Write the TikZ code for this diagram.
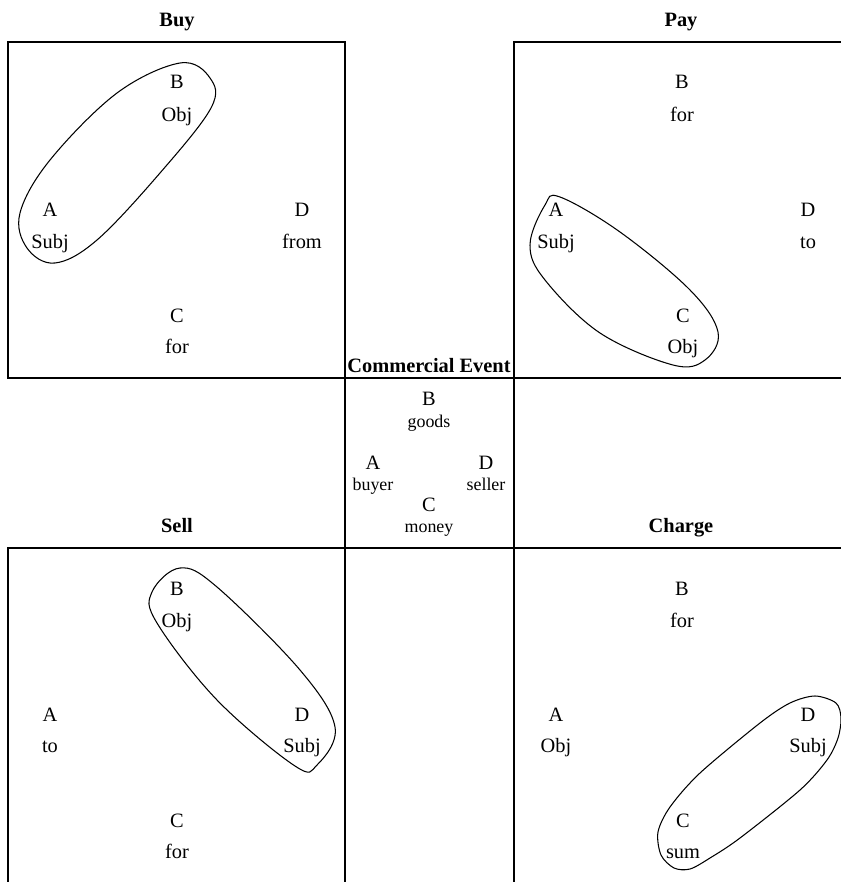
\documentclass[tikz,border=0pt]{standalone}
\usepackage{fontspec}
\setmainfont{Liberation Serif}
\usetikzlibrary{positioning}

\begin{document}
\begin{tikzpicture}[
        x=0.02cm, y=-0.02cm,
        frame/.style={draw, line width=0.6pt},
        heading/.style={font=\bfseries\fontsize{11.6}{14}\selectfont, anchor=base, inner sep=0pt},
        letter/.style={font=\fontsize{11.6}{14}\selectfont, anchor=base, inner sep=0pt},
        role/.style={font=\fontsize{11.6}{14}\selectfont, anchor=base, inner sep=0pt},
        evrole/.style={font=\fontsize{10.2}{12}\selectfont, anchor=base, inner sep=0pt},
        ring/.style={draw, line width=0.6pt, smooth cycle, tension=0.6}
    ]
        \clip (0,0) rectangle (841,882);

        % Frames
        \draw[frame] (8,42) rectangle (345,378);
        \draw[frame] (514,42) rectangle (851,378);
        \draw[frame] (345,378) rectangle (514,548);
        \draw[frame] (8,548) rectangle (345,884);
        \draw[frame] (514,548) rectangle (851,884);

        % Buy
        \node (buy) [heading] at (177,27) {Buy};
        \node (buyB) [letter] at (177,89) {B};
        \node (buyBrole) [role] at (177,121) {Obj};
        \node (buyA) [letter] at (50,216) {A};
        \node (buyArole) [role] at (50,248) {Subj};
        \node (buyD) [letter] at (302,216) {D};
        \node (buyDrole) [role] at (302,248) {from};
        \node (buyC) [letter] at (177,322) {C};
        \node (buyCrole) [role] at (177,353) {for};

        % Pay
        \node (pay) [heading] at (681,27) {Pay};
        \node (payB) [letter] at (682,89) {B};
        \node (payBrole) [role] at (682,121) {for};
        \node (payA) [letter] at (556,216) {A};
        \node (payArole) [role] at (556,248) {Subj};
        \node (payD) [letter] at (808,216) {D};
        \node (payDrole) [role] at (808,248) {to};
        \node (payC) [letter] at (683,322) {C};
        \node (payCrole) [role] at (683,353) {Obj};

        % Commercial Event
        \node (event) [heading] at (429,372) {Commercial Event};
        \node (evB) [letter] at (429,405) {B};
        \node (evBrole) [evrole] at (429,427) {goods};
        \node (evA) [letter] at (373,469) {A};
        \node (evArole) [evrole] at (373,490) {buyer};
        \node (evD) [letter] at (486,469) {D};
        \node (evDrole) [evrole] at (486,490) {seller};
        \node (evC) [letter] at (429,511) {C};
        \node (evCrole) [evrole] at (429,532) {money};

        % Sell
        \node (sell) [heading] at (177,532) {Sell};
        \node (sellB) [letter] at (177,595) {B};
        \node (sellBrole) [role] at (177,627) {Obj};
        \node (sellA) [letter] at (50,721) {A};
        \node (sellArole) [role] at (50,752) {to};
        \node (sellD) [letter] at (302,721) {D};
        \node (sellDrole) [role] at (302,752) {Subj};
        \node (sellC) [letter] at (177,827) {C};
        \node (sellCrole) [role] at (177,858) {for};

        % Charge
        \node (charge) [heading] at (681,532) {Charge};
        \node (chargeB) [letter] at (682,595) {B};
        \node (chargeBrole) [role] at (682,627) {for};
        \node (chargeA) [letter] at (556,721) {A};
        \node (chargeArole) [role] at (556,752) {Obj};
        \node (chargeD) [letter] at (808,721) {D};
        \node (chargeDrole) [role] at (808,752) {Subj};
        \node (chargeC) [letter] at (683,827) {C};
        \node (chargeCrole) [role] at (683,858) {sum};

        % Rings round subject and object
        \draw[ring] plot coordinates {(180,63) (210,78) (211,108) (160,173)
            (97,240) (55,263) (27,248) (20,213) (50,160) (117,93)};
        \draw[ring] plot coordinates {(560,197) (620,232) (690,290) (718,332)
            (705,360) (673,365) (600,333) (545,280) (530,245) (545,205)};
        \draw[ring] plot coordinates {(180,568) (217,587) (300,670) (335,727)
            (317,765) (295,766) (217,700) (157,623) (152,592)};
        \draw[ring, tension=0.5] plot coordinates {(815,696) (836,703) (841,718)
            (838,738) (827,760) (800,790) (740,838) (710,858) (690,869) (674,868)
            (661,855) (658,832) (670,807) (700,773) (760,723) (790,703)};
    \end{tikzpicture}
\end{document}
